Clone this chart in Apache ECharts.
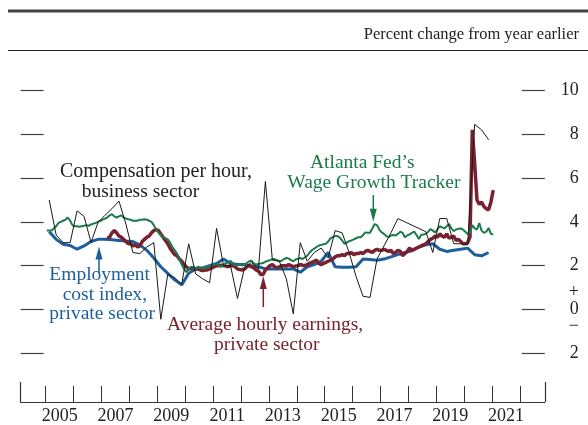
<!DOCTYPE html>
<html>
<head>
<meta charset="utf-8">
<script src="https://cdn.jsdelivr.net/npm/echarts@6.0.0/dist/echarts.min.js"></script>
<style>
html, body { margin: 0; padding: 0; background: #fff; }
#chart-panel { width: 588px; height: 425px; }
</style>
</head>
<body>
<div id="chart-panel"></div>
<script>
// Atlanta Fed's Wage Growth Tracker, monthly, Jan 2005 - Jan 2021
const atlStart = [2005, 1]
const atlFed = [
  3.6, 3.6, 3.6, 3.7, 3.8, 3.95, 4.0, 4.05, 4.1, 4.2, 4.05, 3.85,
  3.8, 3.8, 3.78, 3.8, 3.82, 3.85, 3.82, 3.88, 3.92, 3.95, 4.0, 4.05,
  4.1, 4.15, 4.2, 4.3, 4.35, 4.25, 4.2, 4.25, 4.3, 4.2, 4.15, 4.12,
  4.1, 4.05, 4.05, 4.05, 4.1, 4.1, 4.12, 4.1, 4.05, 4.0, 3.85, 3.65,
  3.5, 3.4, 3.3, 3.25, 3.2, 3.05, 2.85, 2.7, 2.55, 2.3, 2.05, 1.85,
  1.7, 1.85, 1.95, 1.9, 1.85, 1.95, 1.9, 1.85, 1.95, 1.92, 1.98, 2.02,
  2.05, 2.1, 1.98, 1.95, 2.05, 2.12, 2.15, 2.22, 2.1, 2.0, 2.05, 2.05,
  2.0, 2.05, 2.12, 2.2, 2.23, 2.1, 2.05, 2.08, 2.1, 2.12, 2.18, 2.22,
  2.25, 2.3, 2.3, 2.25, 2.2, 2.22, 2.3, 2.35, 2.32, 2.25, 2.2, 2.28,
  2.32, 2.35, 2.3, 2.38, 2.45, 2.6, 2.7, 2.78, 2.85, 2.92, 2.95, 2.98,
  3.0, 3.1, 3.25, 3.3, 3.35, 3.35, 3.28, 3.15, 3.0, 3.05, 3.12, 3.15,
  3.2, 3.25, 3.3, 3.3, 3.4, 3.52, 3.5, 3.5, 3.7, 3.9, 3.85, 3.65,
  3.52, 3.45, 3.35, 3.3, 3.38, 3.4, 3.38, 3.45, 3.55, 3.5, 3.3, 3.38,
  3.42, 3.5, 3.55, 3.4, 3.22, 3.4, 3.42, 3.45, 3.55, 3.67, 3.6, 3.52,
  3.65, 3.8, 3.75, 3.7, 3.8, 3.9, 3.7, 3.58, 3.65, 3.68, 3.7, 3.64,
  3.55, 3.44, 3.5, 3.85, 3.7, 3.65, 3.94, 3.6, 3.5, 3.55, 3.72, 3.45,
  3.42
]
// Average hourly earnings, private sector, monthly, Mar 2007 - Jan 2021
const aheStart = [2007, 3]
const ahe = [
  3.25, 3.3, 3.5, 3.6, 3.5, 3.35, 3.3, 3.2, 3.1, 3.0,
  3.0, 2.9, 2.95, 2.85, 2.9, 3.1, 3.2, 3.3, 3.35, 3.5, 3.6, 3.65,
  3.6, 3.45, 3.3, 3.15, 3.0, 2.8, 2.65, 2.5, 2.45, 2.3, 2.2, 2.05,
  1.95, 1.85, 1.88, 1.9, 1.85, 1.85, 1.8, 1.77, 1.8, 1.8, 1.85, 1.9,
  1.95, 2.0, 2.0, 2.02, 2.0, 1.98, 1.95, 2.0, 2.0, 1.95, 1.85, 1.82,
  1.8, 1.85, 1.95, 2.0, 1.95, 1.9, 1.8, 1.75, 1.6, 1.6, 1.8, 1.9,
  2.0, 2.05, 1.95, 1.9, 1.95, 2.0, 2.0, 1.98, 2.05, 2.0, 1.95, 1.98,
  2.0, 2.05, 2.02, 2.0, 2.05, 2.1, 2.15, 2.2, 2.25, 2.1, 2.05, 2.1,
  2.15, 2.2, 2.25, 2.3, 2.4, 2.45, 2.45, 2.5, 2.45, 2.55, 2.55, 2.6,
  2.5, 2.55, 2.55, 2.6, 2.55, 2.65, 2.7, 2.65, 2.6, 2.7, 2.75, 2.7,
  2.7, 2.75, 2.7, 2.65, 2.7, 2.55, 2.6, 2.7, 2.65, 2.45, 2.55, 2.65,
  2.8, 2.7, 2.75, 2.8, 2.85, 2.9, 2.95, 3.0, 3.1, 3.2, 3.25, 3.35,
  3.3, 3.45, 3.35, 3.3, 3.45, 3.25, 3.3, 3.35, 3.15, 3.2, 3.1, 3.0,
  3.0, 3.05, 3.3, 8.2, 6.7, 5.0, 4.8, 4.9, 4.7, 4.6, 4.55, 4.9,
  5.45
]
// quarterly series, 2005:Q1 - 2020:Q4
const qStart = 2005
const eci = [
  3.55, 3.2, 2.98, 2.92,
  2.75, 2.9, 3.1, 3.2,
  3.2, 3.18, 3.15, 3.12,
  3.1, 2.95, 2.7, 2.35,
  1.95, 1.65, 1.35, 1.12,
  1.65, 1.85, 1.9, 2.0,
  2.1, 2.3, 2.1, 2.05,
  2.05, 2.0, 1.95, 1.85,
  1.85, 1.85, 1.85, 1.85,
  1.7, 1.95, 2.05, 2.2,
  2.6, 1.95, 1.93, 1.93,
  1.95, 2.3, 2.28, 2.25,
  2.3, 2.4, 2.5, 2.6,
  2.68, 2.85, 2.95, 3.0,
  2.75, 2.65, 2.7, 2.75,
  2.8, 2.5, 2.45, 2.6
]
const compHour = [
  5.0, 3.4, 3.05, 3.05,
  4.5, 4.25, 3.06, 3.97,
  4.3, 4.6, 4.95, 3.9,
  2.6, 2.55, 2.85, 3.05,
  -0.45, 1.6, 1.45, 1.15,
  3.0, 1.62, 1.4, 1.22,
  3.7, 2.0, 2.0, 0.5,
  1.9, 2.15, 1.85, 5.85,
  2.25, 2.2, 1.4, -0.2,
  3.05, 2.2, 2.6, 2.8,
  2.35, 3.6, 3.5, 2.6,
  1.5, 0.6, 0.55, 2.3,
  2.9, 3.5, 4.15, 4.0,
  3.85, 3.7, 3.55, 2.6,
  4.15, 4.15, 3.0, 3.0,
  2.95, 8.45, 8.2, 7.75
]
const yearTicks = [2005, 2006, 2007, 2008, 2009, 2010, 2011, 2012, 2013, 2014, 2015, 2016, 2017, 2018, 2019, 2020, 2021, 2022]
const yearLabels = [2005, 2007, 2009, 2011, 2013, 2015, 2017, 2019, 2021]
const yTicks = [-2, 0, 2, 4, 6, 8, 10]

const serif = '"Liberation Serif", "Times New Roman", serif'

// monthly value -> [decimal year at mid-month, value]
const monthly = (start, arr) => arr.map((v, i) => {
  const m = start[1] - 1 + i
  return [start[0] + (m + 0.5) / 12, v]
})
// quarterly value -> [decimal year at mid-quarter, value]
const quarterly = (start, arr) => arr.map((v, i) => [start + (i * 3 + 1.5) / 12, v])

const txt = (text, x, y, color, size) => ({
  type: "text",
  silent: true,
  style: {
    text: text,
    x: x,
    y: y,
    fill: color,
    font: (size || 19.5) + "px " + serif,
    align: "left",
    textAlign: "left",
    verticalAlign: "middle",
    textVerticalAlign: "middle"
  }
})
const arrow = (x, yTop, yBottom, color) => ({
  type: "group",
  silent: true,
  children: [
    {
      type: "line",
      shape: { x1: x, y1: yTop + 10, x2: x, y2: yBottom },
      style: { stroke: color, lineWidth: 1.5 }
    },
    {
      type: "polygon",
      shape: { points: [[x, yTop], [x - 3.5, yTop + 13], [x + 3.5, yTop + 13]] },
      style: { fill: color }
    }
  ]
})
const arrowDown = (x, yTop, yBottom, color) => ({
  type: "group",
  silent: true,
  children: [
    {
      type: "line",
      shape: { x1: x, y1: yTop, x2: x, y2: yBottom - 10 },
      style: { stroke: color, lineWidth: 1.5 }
    },
    {
      type: "polygon",
      shape: { points: [[x, yBottom], [x - 3.5, yBottom - 13], [x + 3.5, yBottom - 13]] },
      style: { fill: color }
    }
  ]
})

const GREEN = "#1b7a4b"
const BLUE = "#1d5f9c"
const MAROON = "#7a2130"
const BLACK = "#1a1a1a"

const chart = echarts.init(document.getElementById("chart-panel"), null, { renderer: "canvas" })

const option = {
  animation: false,
  backgroundColor: "#fff",
  grid: { left: 20.6, right: 43.2, top: 46.7, height: 352, containLabel: false },
  xAxis: [
    {
      type: "value",
      position: "bottom",
      min: 2004.1,
      max: 2022.89,
      offset: 5,
      axisLine: { show: true, onZero: false, lineStyle: { color: "#333", width: 1.2 } },
      axisTick: { show: true, inside: true, length: 16, customValues: yearTicks, lineStyle: { color: "#333", width: 1 } },
      axisLabel: {
        show: true,
        customValues: yearLabels.map((y) => y + 0.5),
        formatter: (v) => String(Math.floor(v)),
        color: "#222",
        fontFamily: serif,
        fontSize: 18,
        margin: 5
      },
      splitLine: { show: false }
    },
    {
      // taller ticks at both ends of the axis
      type: "value",
      position: "bottom",
      min: 2004.1,
      max: 2022.89,
      offset: 5,
      axisLine: { show: false, onZero: false },
      axisTick: { show: true, inside: true, length: 20, customValues: [2004.1, 2022.89], lineStyle: { color: "#333", width: 1.2 } },
      axisLabel: { show: false },
      splitLine: { show: false }
    }
  ],
  yAxis: [
    {
      type: "value",
      position: "left",
      min: -4,
      max: 12,
      interval: 2,
      axisLine: { show: false },
      axisTick: { show: true, inside: true, length: 23, customValues: yTicks, lineStyle: { color: "#444", width: 1.2 } },
      axisLabel: { show: false },
      splitLine: { show: false }
    },
    {
      type: "value",
      position: "right",
      min: -4,
      max: 12,
      interval: 2,
      axisLine: { show: false },
      axisTick: { show: true, inside: true, length: 23, customValues: yTicks, lineStyle: { color: "#444", width: 1.2 } },
      axisLabel: {
        show: true,
        customValues: yTicks,
        align: "right",
        margin: 34,
        color: "#222",
        fontFamily: serif,
        fontSize: 18,
        lineHeight: 17,
        formatter: (v) => (v === 0 ? "+\n0\n\u2212" : String(Math.abs(v)))
      },
      splitLine: { show: false }
    }
  ],
  series: [
    {
      name: "Employment cost index, private sector",
      type: "line",
      data: quarterly(qStart, eci),
      showSymbol: false,
      lineStyle: { color: BLUE, width: 3 },
      z: 2
    },
    {
      name: "Average hourly earnings, private sector",
      type: "line",
      data: monthly(aheStart, ahe),
      showSymbol: false,
      lineStyle: { color: MAROON, width: 3.5 },
      z: 3
    },
    {
      name: "Atlanta Fed's Wage Growth Tracker",
      type: "line",
      data: monthly(atlStart, atlFed),
      showSymbol: false,
      lineStyle: { color: GREEN, width: 2 },
      z: 4
    },
    {
      name: "Compensation per hour, business sector",
      type: "line",
      data: quarterly(qStart, compHour),
      showSymbol: false,
      lineStyle: { color: BLACK, width: 1 },
      z: 5
    }
  ],
  graphic: [
    { type: "line", silent: true, shape: { x1: 8, y1: 11, x2: 588, y2: 11 }, style: { stroke: "#444", lineWidth: 3 } },
    { type: "line", silent: true, shape: { x1: 8, y1: 50.5, x2: 588, y2: 50.5 }, style: { stroke: "#222", lineWidth: 1.2 } },
    {
      type: "text",
      silent: true,
      style: {
        text: "Percent change from year earlier",
        x: 579,
        y: 35,
        fill: "#222",
        font: "16.5px " + serif,
        align: "right",
        textAlign: "right",
        verticalAlign: "middle",
        textVerticalAlign: "middle"
      }
    },
    txt("Compensation per hour,", 60, 171.7, "#222", 20),
    txt("business sector", 81.7, 191.7, "#222"),
    txt("Atlanta Fed\u2019s", 310, 163.3, GREEN),
    txt("Wage Growth Tracker", 287.3, 183, GREEN),
    txt("Employment", 49.3, 275, BLUE),
    txt("cost index,", 62.7, 294.5, BLUE),
    txt("private sector", 49.3, 313.5, BLUE),
    txt("Average hourly earnings,", 167, 325, MAROON),
    txt("private sector", 214, 345, MAROON),
    arrow(99, 246.5, 273, BLUE),
    arrow(263.3, 276, 307, MAROON),
    arrowDown(373.3, 195, 221.7, GREEN)
  ]
}
chart.setOption(option)
</script>
</body>
</html>
